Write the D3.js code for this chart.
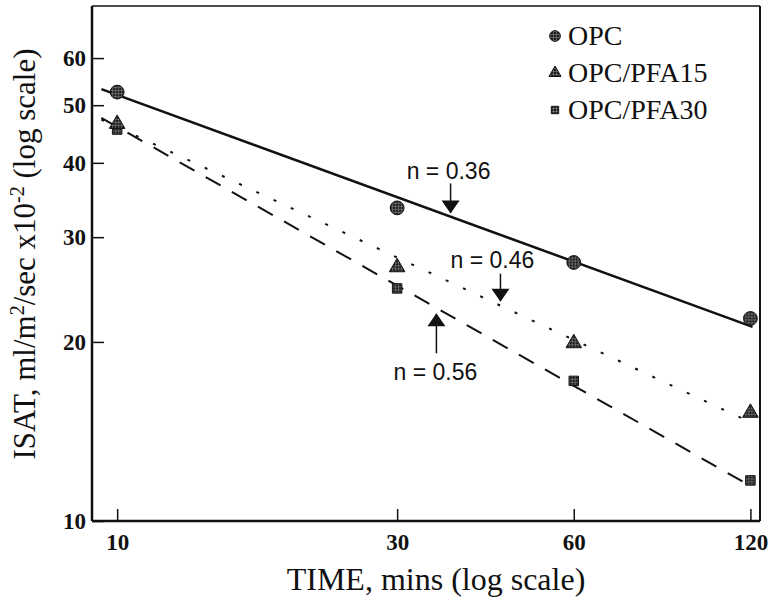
<!DOCTYPE html>
<html lang="en">
<head>
<meta charset="utf-8">
<title>ISAT vs time</title>
<script type="text/javascript" src="https://cdn.jsdelivr.net/npm/d3@7"></script>
<style>
  body { margin: 0; background: #fff; }
  svg text { fill: #111; }
  .serif { font-family: "Liberation Serif", "Times New Roman", serif; }
  .sans { font-family: "Liberation Sans", Arial, sans-serif; }
</style>
</head>
<body>
<div id="chart"></div>
<script>
// time in minutes, ISAT readings per mix
const times = [10, 30, 60, 120];
const opc = [52.6, 33.6, 27.2, 21.9];
const pfa15 = [46.5, 26.7, 19.9, 15.2];
const pfa30 = [45.5, 24.6, 17.2, 11.7];
const seriesNames = ["OPC", "OPC/PFA15", "OPC/PFA30"];

// fitted lines: value at the start and end time
const fitTimes = [9.4, 121];
const fitStart = [53.2, 47.3, 47.6];
const fitEnd = [21.2, 14.6, 11.4];

// n labels and where their arrows touch the lines
const nLabels = ["n = 0.36", "n = 0.46", "n = 0.56"];
const arrowTime = [37, 45, 35];
const arrowValue = [32.5, 23.1, 22.6];

const xTicks = [10, 30, 60, 120];
const yTicks = [10, 20, 30, 40, 50, 60];

const w = 772, h = 599;
const mLeft = 92, mRight = 760, mTop = 6, mBottom = 521;

let x = d3.scaleLog().domain([9.06, 124.6]).range([mLeft, mRight]);
let y = d3.scaleLog().domain([10, 73.4]).range([mBottom, mTop]);

let svg = d3.select("#chart").append("svg")
  .attr("width", w)
  .attr("height", h);

// crosshatch fill for the markers
let pat = svg.append("defs").append("pattern")
  .attr("id", "hatch")
  .attr("patternUnits", "userSpaceOnUse")
  .attr("width", 3).attr("height", 3);
pat.append("rect").attr("width", 3).attr("height", 3).attr("fill", "#1c1c1c");
pat.append("path").attr("d", "M0,1.5H3M1.5,0V3")
  .attr("stroke", "#8a8a8a").attr("stroke-width", 0.6);

// frame
svg.append("line").attr("x1", mLeft).attr("x2", mRight).attr("y1", mTop).attr("y2", mTop)
  .attr("stroke", "#111").attr("stroke-width", 1.5);
svg.append("line").attr("x1", mRight).attr("x2", mRight).attr("y1", mTop).attr("y2", mBottom)
  .attr("stroke", "#111").attr("stroke-width", 2);

let xAxis = d3.axisBottom(x)
  .tickValues(xTicks)
  .tickFormat(d3.format("d"))
  .tickSizeInner(-12)
  .tickSizeOuter(0)
  .tickPadding(13);

let yAxis = d3.axisLeft(y)
  .tickValues(yTicks)
  .tickFormat(d3.format("d"))
  .tickSizeInner(-12)
  .tickSizeOuter(0)
  .tickPadding(6);

let gx = svg.append("g")
  .attr("transform", `translate(0,${mBottom})`)
  .call(xAxis);
let gy = svg.append("g")
  .attr("transform", `translate(${mLeft},0)`)
  .call(yAxis);

[gx, gy].forEach((g) => {
  g.select(".domain").attr("stroke", "#111").attr("stroke-width", 2.5);
  g.selectAll(".tick line").attr("stroke", "#111").attr("stroke-width", 1.5);
  g.selectAll(".tick text")
    .attr("class", "serif")
    .style("font-size", "23px")
    .style("font-weight", "bold")
    .attr("fill", "#111");
});
gy.select(".domain").attr("d", `M0,${mBottom}V${mTop}`);
gx.select(".domain").attr("d", `M${mLeft},0H${mRight}`);

// fitted lines
const dashes = [null, "3,16", "17,13"];
let fits = seriesNames.map((s, i) => [[fitTimes[0], fitStart[i]], [fitTimes[1], fitEnd[i]]]);
let line = d3.line().x((d) => x(d[0])).y((d) => y(d[1]));

svg.append("g").selectAll("path")
  .data(fits)
  .enter()
  .append("path")
    .attr("d", line)
    .attr("fill", "none")
    .attr("stroke", "#111")
    .attr("stroke-width", (d, i) => i == 0 ? 2.5 : 2)
    .attr("stroke-dasharray", (d, i) => dashes[i]);

// markers
const shapes = [d3.symbolCircle, d3.symbolTriangle, d3.symbolSquare];
const sizes = [150, 105, 90];
const series = [opc, pfa15, pfa30];

// draw squares first so triangles sit on top at 10 min
[2, 1, 0].forEach((i) => {
  svg.append("g").selectAll("path")
    .data(times.map((t, j) => [t, series[i][j]]))
    .enter()
    .append("path")
      .attr("transform", (d) => `translate(${x(d[0])},${y(d[1])})`)
      .attr("d", d3.symbol().type(shapes[i]).size(sizes[i]))
      .attr("fill", "url(#hatch)")
      .attr("stroke", "#111")
      .attr("stroke-width", 1);
});

// legend
const legendX = 555, legendY = 36, legendStep = 37;
let leg = svg.append("g").selectAll("g")
  .data(seriesNames)
  .enter()
  .append("g")
    .attr("transform", (d, i) => `translate(${legendX},${legendY + i * legendStep})`);
leg.append("path")
  .attr("d", (d, i) => d3.symbol().type(shapes[i]).size(sizes[i] * 0.6)())
  .attr("fill", "url(#hatch)")
  .attr("stroke", "#111")
  .attr("stroke-width", 1);
leg.append("text")
  .attr("class", "serif")
  .attr("x", 13)
  .attr("y", 9)
  .style("font-size", "28px")
  .text((d) => d);

// arrows with n labels
const arrowDir = [-1, -1, 1]; // -1: arrow comes from above, 1: from below
const shaftEnd = [33, 31, 43];
const labelDy = [-37, -37, 70];
const labelDx = [-2, -8, -1];
let ann = svg.append("g").selectAll("g")
  .data(nLabels)
  .enter()
  .append("g")
    .attr("transform", (d, i) => `translate(${x(arrowTime[i])},${y(arrowValue[i])})`);
ann.append("line")
  .attr("x1", 0).attr("x2", 0)
  .attr("y1", (d, i) => arrowDir[i] * 4)
  .attr("y2", (d, i) => arrowDir[i] * shaftEnd[i])
  .attr("stroke", "#111")
  .attr("stroke-width", 1.5);
ann.append("path")
  .attr("d", (d, i) => {
    let s = arrowDir[i] * 3, b = arrowDir[i] * 16;
    return `M0,${s}L-9,${b}L9,${b}Z`;
  })
  .attr("fill", "#111");
ann.append("text")
  .attr("class", "sans")
  .attr("text-anchor", "middle")
  .attr("x", (d, i) => labelDx[i])
  .attr("y", (d, i) => labelDy[i])
  .style("font-size", "23px")
  .text((d) => d);

// axis titles
svg.append("text")
  .attr("class", "serif")
  .attr("text-anchor", "middle")
  .attr("x", 436)
  .attr("y", 590)
  .style("font-size", "32px")
  .text("TIME, mins (log scale)");

let yt = svg.append("text")
  .attr("class", "serif")
  .attr("text-anchor", "middle")
  .attr("transform", "translate(35,254) rotate(-90)")
  .style("font-size", "31px");
yt.append("tspan").text("ISAT, ml/m");
yt.append("tspan").attr("dy", -11).style("font-size", "20px").text("2");
yt.append("tspan").attr("dy", 11).text("/sec x10");
yt.append("tspan").attr("dy", -11).style("font-size", "20px").text("-2");
yt.append("tspan").attr("dy", 11).text(" (log scale)");
</script>
</body>
</html>
